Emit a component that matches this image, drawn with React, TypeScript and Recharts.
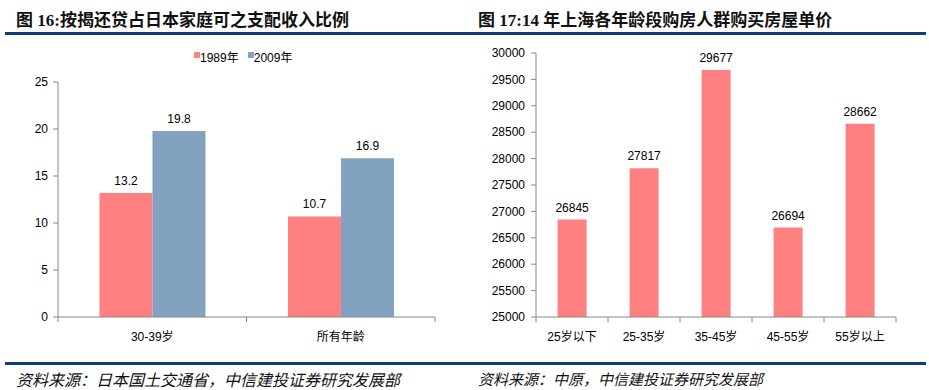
import React from 'react';
import { BarChart, Bar, XAxis, YAxis, LabelList } from 'recharts';

// ---- Chart 16 data ----
const ageGroupsJP = ['30-39岁', '所有年龄'];
const share1989 = [13.2, 10.7];
const share2009 = [19.8, 16.9];
const shareTicks = [0, 5, 10, 15, 20, 25];
const seriesNames = ['1989年', '2009年'];

// ---- Chart 17 data ----
const ageGroupsSH = ['25岁以下', '25-35岁', '35-45岁', '45-55岁', '55岁以上'];
const unitPrice = [26845, 27817, 29677, 26694, 28662];
const priceTicks = [25000, 25500, 26000, 26500, 27000, 27500, 28000, 28500, 29000, 29500, 30000];

// ---- Titles ----
const title16 = '图 16:按揭还贷占日本家庭可之支配收入比例';
const title17 = '图 17:14 年上海各年龄段购房人群购买房屋单价';
const source16 = '资料来源：日本国土交通省，中信建投证券研究发展部';
const source17 = '资料来源：中原，中信建投证券研究发展部';

const PINK = '#FF8080';
const BLUE = '#83A2BF';
const AXIS = '#888888';
const RULE = '#0F3D7C';
const FONT = "'Liberation Sans', Arial, 'Noto Sans CJK SC', sans-serif";
const TITLE_FONT = "'Liberation Serif', 'Noto Sans CJK SC', serif";

const data16 = ageGroupsJP.map((g, i) => ({ group: g, y1989: share1989[i], y2009: share2009[i] }));
const data17 = ageGroupsSH.map((g, i) => ({ group: g, price: unitPrice[i] }));

const makeTick = (count: number, fallbackHalf: number) => (props: any) => {
  const { x, y, payload, index } = props;
  const half = payload && payload.offset ? payload.offset : fallbackHalf;
  const top = y - 11;
  return (
    <g>
      <line x1={x - half} x2={x - half} y1={top} y2={top + 5} stroke={AXIS} />
      {index === count - 1 && <line x1={x + half} x2={x + half} y1={top} y2={top + 5} stroke={AXIS} />}
      <text x={x} y={y} dy={13} textAnchor="middle" fontSize={12} fill="#000" fontFamily={FONT}>
        {payload.value}
      </text>
    </g>
  );
};

const LegendBox = () => (
  <div style={{ position: 'absolute', left: 194, top: 51, display: 'flex', fontFamily: FONT, fontSize: 12, color: '#000', lineHeight: '14px' }}>
    {seriesNames.map((n, i) => (
      <div key={n} style={{ display: 'flex', alignItems: 'flex-start', marginRight: i === 0 ? 9 : 0 }}>
        <span style={{ display: 'inline-block', width: 6, height: 6, background: i === 0 ? PINK : BLUE, marginTop: 1 }} />
        <span>{n}</span>
      </div>
    ))}
  </div>
);

const Title = ({ text, left }: { text: string; left: number }) => (
  <div style={{ position: 'absolute', left, top: 6, fontFamily: TITLE_FONT, fontWeight: 'bold', fontSize: 17, color: '#111', whiteSpace: 'nowrap' }}>
    {text}
  </div>
);

const Source = ({ text, left, size }: { text: string; left: number; size: number }) => (
  <div style={{ position: 'absolute', left, top: 369, fontFamily: "'Noto Sans CJK SC', sans-serif", fontStyle: 'italic', fontSize: size, color: '#111', whiteSpace: 'nowrap', lineHeight: '20px' }}>
    {text}
  </div>
);

export default function App() {
  return (
    <div style={{ position: 'absolute', left: 0, top: 0, width: 929, height: 390, background: '#fff', overflow: 'hidden' }}>
      <Title text={title16} left={16} />
      <Title text={title17} left={478} />
      <div style={{ position: 'absolute', left: 5, top: 32, width: 921, height: 3, background: RULE }} />
      <div style={{ position: 'absolute', left: 5, top: 362, width: 921, height: 3, background: RULE }} />
      <Source text={source16} left={16} size={16} />
      <Source text={source17} left={478} size={15} />

      <div style={{ position: 'absolute', left: 0, top: 0 }}>
        <BarChart width={465} height={390} data={data16} margin={{ top: 82, right: 30, bottom: 43, left: 0 }} barCategoryGap="22%" barGap={0}>
          <XAxis dataKey="group" height={30} stroke={AXIS} tickLine={false} tickSize={5} tickMargin={6} interval={0} tick={makeTick(ageGroupsJP.length, 94)} />
          <YAxis width={58} domain={[0, 25]} ticks={shareTicks} stroke={AXIS} tickSize={5} tickMargin={5} tick={{ fill: '#000', fontSize: 12, fontFamily: FONT }} />
          <Bar dataKey="y1989" name={seriesNames[0]} fill={PINK} isAnimationActive={false}>
            <LabelList dataKey="y1989" position="top" offset={8} fontSize={12} fill="#000" fontFamily={FONT} />
          </Bar>
          <Bar dataKey="y2009" name={seriesNames[1]} fill={BLUE} isAnimationActive={false}>
            <LabelList dataKey="y2009" position="top" offset={8} fontSize={12} fill="#000" fontFamily={FONT} />
          </Bar>
        </BarChart>
      </div>
      <LegendBox />

      <div style={{ position: 'absolute', left: 465, top: 0 }}>
        <BarChart width={464} height={390} data={data17} margin={{ top: 53, right: 33, bottom: 43, left: 0 }} barCategoryGap="30%">
          <XAxis dataKey="group" height={30} stroke={AXIS} tickLine={false} tickSize={5} tickMargin={6} interval={0} tick={makeTick(ageGroupsSH.length, 36)} />
          <YAxis width={71} domain={[25000, 30000]} ticks={priceTicks} allowDataOverflow stroke={AXIS} tickSize={5} tickMargin={6} tick={{ fill: '#000', fontSize: 12, fontFamily: FONT }} />
          <Bar dataKey="price" fill={PINK} isAnimationActive={false}>
            <LabelList dataKey="price" position="top" offset={8} fontSize={12} fill="#000" fontFamily={FONT} />
          </Bar>
        </BarChart>
      </div>
    </div>
  );
}
